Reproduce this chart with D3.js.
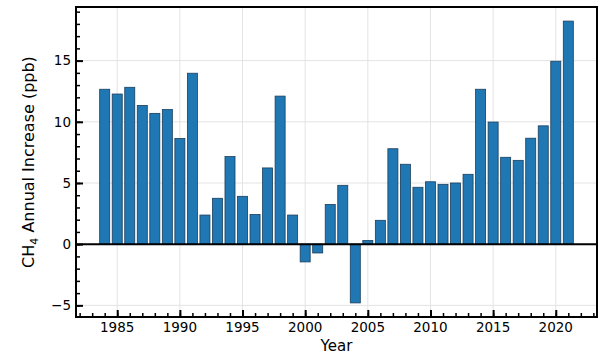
<!DOCTYPE html>
<html>
<head>
<meta charset="utf-8">
<script src="https://cdn.jsdelivr.net/npm/d3@7"></script>
<style>
  html, body { margin: 0; padding: 0; background: #fff; }
  text { font-family: "DejaVu Sans", sans-serif; fill: #000; }
</style>
</head>
<body>
<svg id="chart" width="605" height="360"></svg>
<script>
// Data
const years = [1984,1985,1986,1987,1988,1989,1990,1991,1992,1993,1994,1995,1996,1997,1998,1999,
  2000,2001,2002,2003,2004,2005,2006,2007,2008,2009,2010,2011,2012,2013,2014,2015,2016,2017,2018,2019,2020,2021];
const increase = [12.66,12.27,12.82,11.34,10.69,11.0,8.64,13.97,2.38,3.75,7.16,3.91,2.43,6.23,12.1,2.38,
  -1.45,-0.72,3.25,4.81,-4.8,0.3,1.95,7.8,6.53,4.65,5.1,4.89,5.0,5.71,12.66,9.98,7.1,6.85,8.66,9.67,14.95,18.23];
const xMajorTicks = [1985,1990,1995,2000,2005,2010,2015,2020];
const yMajorTicks = [-5,0,5,10,15];

const svg = d3.select("#chart");
const L = 76, R = 597, T = 7, B = 317;
const barW = 0.8;

const xMin = d3.min(years) - barW/2, xMax = d3.max(years) + barW/2;
const yMin = Math.min(0, d3.min(increase)), yMax = d3.max(increase);
const xm = (xMax - xMin) * 0.05, ym = (yMax - yMin) * 0.05;

const x = d3.scaleLinear().domain([xMin - xm, xMax + xm]).range([L, R]);
const y = d3.scaleLinear().domain([yMin - ym, yMax + ym]).range([B, T]);

// grid
const g = svg.append("g");
g.selectAll("line.gx").data(xMajorTicks).enter().append("line")
  .attr("x1", d => x(d)).attr("x2", d => x(d)).attr("y1", T).attr("y2", B)
  .attr("stroke", "#e3e3e3").attr("stroke-width", 1);
g.selectAll("line.gy").data(yMajorTicks).enter().append("line")
  .attr("x1", L).attr("x2", R).attr("y1", d => y(d)).attr("y2", d => y(d))
  .attr("stroke", "#e3e3e3").attr("stroke-width", 1);

// bars
const pw = x(1) - x(0);
svg.append("g").selectAll("rect").data(years).enter().append("rect")
  .attr("x", (d) => x(d - barW/2))
  .attr("width", pw * barW)
  .attr("y", (d, i) => y(Math.max(0, increase[i])))
  .attr("height", (d, i) => Math.abs(y(increase[i]) - y(0)))
  .attr("fill", "#1f77b4")
  .attr("stroke", "#1a3f5c")
  .attr("stroke-width", 0.8);

// zero line
svg.append("line").attr("x1", L).attr("x2", R).attr("y1", y(0)).attr("y2", y(0))
  .attr("stroke", "#000").attr("stroke-width", 2);

// axes with inward ticks
const xAxisMinor = d3.axisTop(x).tickValues(d3.range(1982, 2024)).tickSize(4).tickFormat("");
const xAxisMajor = d3.axisTop(x).tickValues(xMajorTicks).tickSize(7).tickFormat("");
const yAxisMinor = d3.axisRight(y).tickValues(d3.range(-5, 20)).tickSize(4).tickFormat("");
const yAxisMajor = d3.axisRight(y).tickValues(yMajorTicks).tickSize(7).tickFormat("");

function styleAxis(sel, w) {
  sel.select(".domain").remove();
  sel.selectAll(".tick line").attr("stroke", "#000").attr("stroke-width", w);
}
svg.append("g").attr("transform", `translate(0,${B})`).call(xAxisMinor).call(s => styleAxis(s, 1.5));
svg.append("g").attr("transform", `translate(0,${B})`).call(xAxisMajor).call(s => styleAxis(s, 2));
svg.append("g").attr("transform", `translate(${L},0)`).call(yAxisMinor).call(s => styleAxis(s, 1.5));
svg.append("g").attr("transform", `translate(${L},0)`).call(yAxisMajor).call(s => styleAxis(s, 2));

// frame
svg.append("rect").attr("x", L).attr("y", T).attr("width", R - L).attr("height", B - T)
  .attr("fill", "none").attr("stroke", "#000").attr("stroke-width", 2);

// tick labels
svg.append("g").selectAll("text").data(xMajorTicks).enter().append("text")
  .attr("x", d => x(d)).attr("y", B + 15)
  .attr("text-anchor", "middle").attr("font-size", 13.5)
  .text(d => d);
svg.append("g").selectAll("text").data(yMajorTicks).enter().append("text")
  .attr("x", L - 5).attr("y", d => y(d)).attr("dy", "0.36em")
  .attr("text-anchor", "end").attr("font-size", 13.5)
  .text(d => d < 0 ? "\u2212" + Math.abs(d) : d);

// axis labels
svg.append("text").attr("x", (L + R) / 2).attr("y", 351)
  .attr("text-anchor", "middle").attr("font-size", 15).text("Year");

const yl = svg.append("text")
  .attr("transform", `translate(34,${(T + B) / 2}) rotate(-90)`)
  .attr("text-anchor", "middle").attr("font-size", 16);
yl.append("tspan").text("CH");
yl.append("tspan").attr("font-size", 11).attr("dy", 4).text("4");
yl.append("tspan").attr("dy", -4).text(" Annual Increase (ppb)");
</script>
</body>
</html>
